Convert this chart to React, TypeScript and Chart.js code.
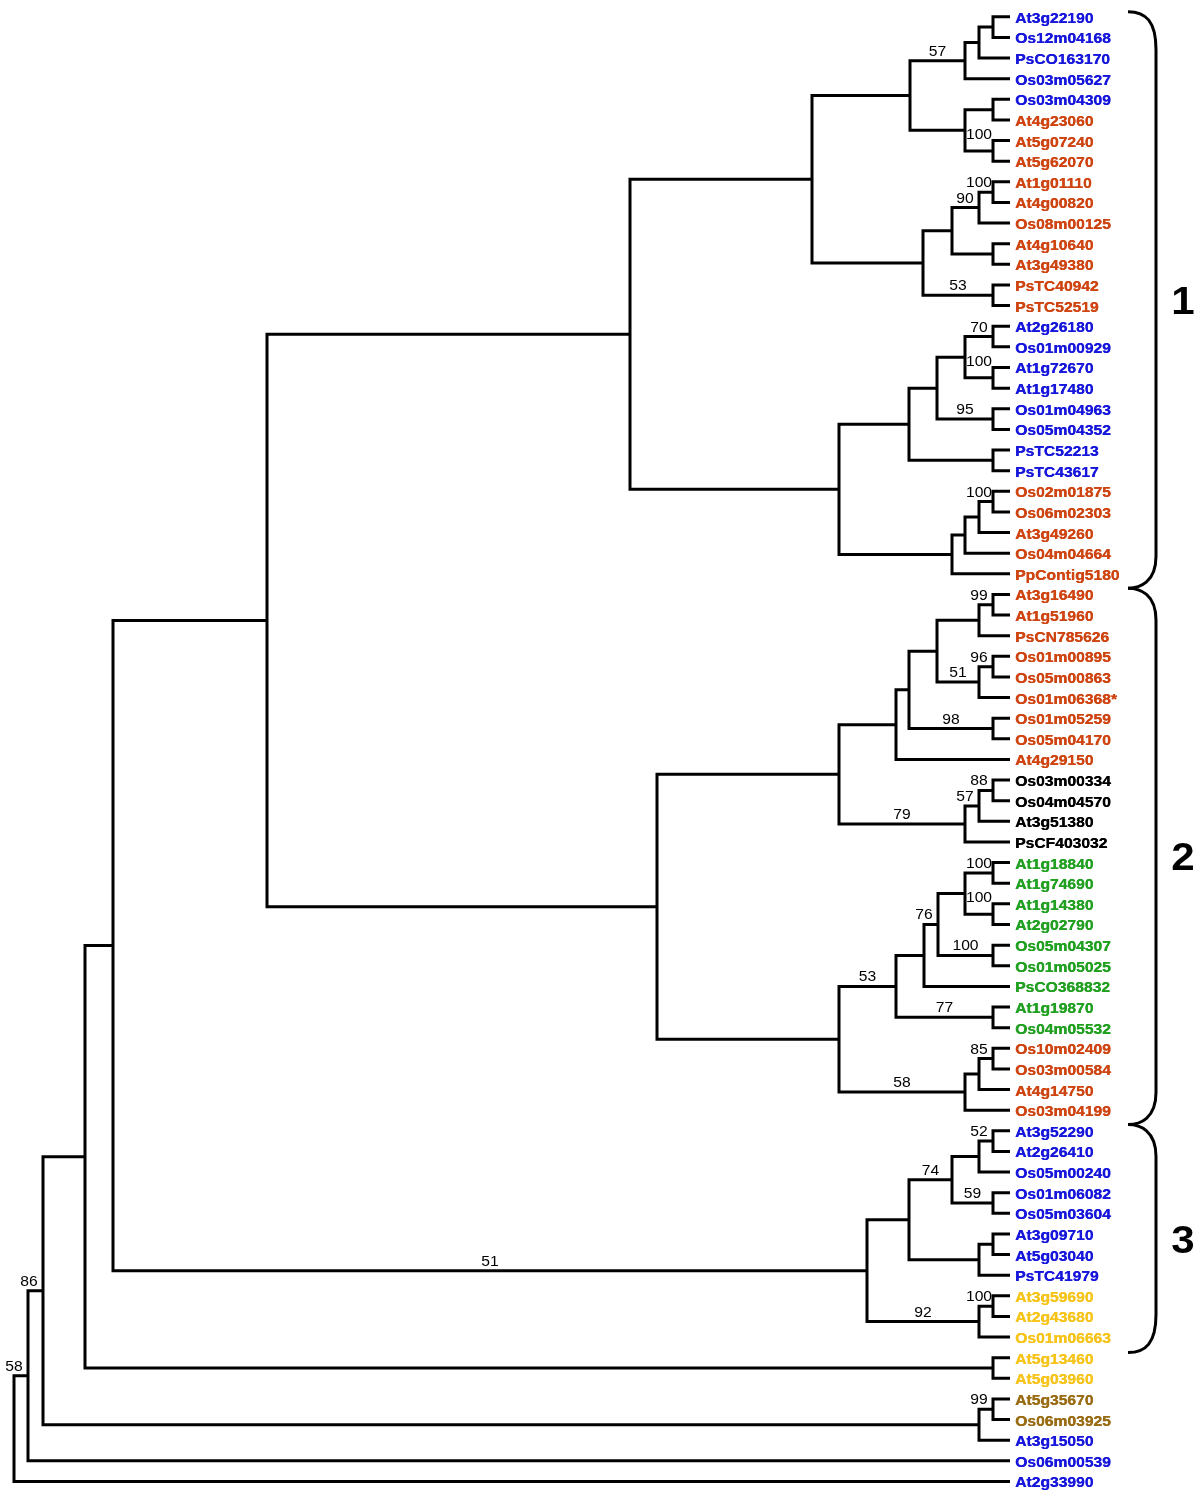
import React, { useEffect, useRef } from 'react';
import { Chart, registerables } from 'chart.js';

Chart.register(...registerables);

// ---------- data ----------
const leafNames = [
  'At3g22190', 'Os12m04168', 'PsCO163170', 'Os03m05627', 'Os03m04309', 'At4g23060', 'At5g07240', 'At5g62070',
  'At1g01110', 'At4g00820', 'Os08m00125', 'At4g10640', 'At3g49380', 'PsTC40942', 'PsTC52519',
  'At2g26180', 'Os01m00929', 'At1g72670', 'At1g17480', 'Os01m04963', 'Os05m04352', 'PsTC52213', 'PsTC43617',
  'Os02m01875', 'Os06m02303', 'At3g49260', 'Os04m04664', 'PpContig5180',
  'At3g16490', 'At1g51960', 'PsCN785626', 'Os01m00895', 'Os05m00863', 'Os01m06368*', 'Os01m05259', 'Os05m04170',
  'At4g29150', 'Os03m00334', 'Os04m04570', 'At3g51380', 'PsCF403032',
  'At1g18840', 'At1g74690', 'At1g14380', 'At2g02790', 'Os05m04307', 'Os01m05025', 'PsCO368832', 'At1g19870',
  'Os04m05532', 'Os10m02409', 'Os03m00584', 'At4g14750', 'Os03m04199',
  'At3g52290', 'At2g26410', 'Os05m00240', 'Os01m06082', 'Os05m03604', 'At3g09710', 'At5g03040', 'PsTC41979',
  'At3g59690', 'At2g43680', 'Os01m06663', 'At5g13460', 'At5g03960', 'At5g35670', 'Os06m03925', 'At3g15050',
  'Os06m00539', 'At2g33990',
];

// colour class of each leaf label
const leafGroups = [
  'B', 'B', 'B', 'B', 'B', 'O', 'O', 'O',
  'O', 'O', 'O', 'O', 'O', 'O', 'O',
  'B', 'B', 'B', 'B', 'B', 'B', 'B', 'B',
  'O', 'O', 'O', 'O', 'O',
  'O', 'O', 'O', 'O', 'O', 'O', 'O', 'O',
  'O', 'K', 'K', 'K', 'K',
  'G', 'G', 'G', 'G', 'G', 'G', 'G', 'G',
  'G', 'O', 'O', 'O', 'O',
  'B', 'B', 'B', 'B', 'B', 'B', 'B', 'B',
  'Y', 'Y', 'Y', 'Y', 'Y', 'R', 'R', 'B',
  'B', 'B',
];

// internal nodes (children: number = leaf index, 'nK' = internal node K), listed bottom-up
const nodeChildren: [number | string, number | string][] = [
  [0, 1], ['n0', 2], ['n1', 3], [4, 5], [6, 7], ['n3', 'n4'], ['n2', 'n5'], [8, 9], ['n7', 10], [11, 12],
  ['n8', 'n9'], [13, 14], ['n10', 'n11'], ['n6', 'n12'], [15, 16], [17, 18], ['n14', 'n15'], [19, 20], ['n16', 'n17'], [21, 22],
  ['n18', 'n19'], [23, 24], ['n21', 25], ['n22', 26], ['n23', 27], ['n20', 'n24'], ['n13', 'n25'],
  [28, 29], ['n27', 30], [31, 32], ['n29', 33], ['n28', 'n30'], [34, 35], ['n31', 'n32'], ['n33', 36], [37, 38],
  ['n35', 39], ['n36', 40], ['n34', 'n37'], [41, 42], [43, 44], ['n39', 'n40'], [45, 46], ['n41', 'n42'], ['n43', 47], [48, 49],
  ['n44', 'n45'], [50, 51], ['n47', 52], ['n48', 53], ['n46', 'n49'], ['n38', 'n50'], ['n26', 'n51'],
  [54, 55], ['n53', 56], [57, 58], ['n54', 'n55'], [59, 60], ['n57', 61], ['n56', 'n58'], [62, 63], ['n60', 64],
  ['n59', 'n61'], ['n52', 'n62'], [65, 66], ['n63', 'n64'], [67, 68], ['n66', 69], ['n65', 'n67'], ['n68', 70], ['n69', 71],
];

// distance of each internal node from the root
const nodeDepth = [
  979, 965, 951, 979, 979, 951, 896, 979, 965, 979,
  938, 979, 909, 798, 979, 979, 951, 979, 923, 979,
  895, 979, 965, 951, 938, 825, 616,
  979, 965, 979, 965, 923, 979, 895, 882, 979,
  965, 951, 825, 979, 979, 951, 979, 924, 910, 979,
  882, 979, 965, 951, 825, 643, 253,
  979, 965, 979, 938, 979, 965, 895, 979, 965,
  853, 99, 979, 71, 979, 965, 29, 14, 0,
];

// bootstrap support of each internal node
const nodeSupport: (number | null)[] = [
  null, null, 57, null, 100, null, null, 100, 90, null,
  null, 53, null, null, 70, 100, null, 95, null, null,
  null, 100, null, null, null, null, null,
  99, null, 96, 51, null, 98, null, null, 88,
  57, 79, null, 100, 100, null, 100, 76, null, 77,
  53, 85, null, 58, null, null, null,
  52, null, 59, 74, null, null, null, 100, 92,
  51, null, null, null, 99, null, 86, 58, null,
];

const tipDepth = 996;

const cladeNames = ['1', '2', '3'];
const cladeFirst = [0, 28, 54];
const cladeLast = [27, 53, 64];

// ---------- styles ----------
const groupColors: Record<string, string> = {
  B: '#1717dc',
  O: '#cf4512',
  K: '#000000',
  G: '#22a022',
  Y: '#f6c41a',
  R: '#9a6c14',
};
const SX = 1.08; // horizontal text stretch of the original figure
const FONT_FAMILY = '"Liberation Sans", Arial, Helvetica, sans-serif';

// ---------- derived tree geometry (in data units) ----------
const nodeIndex = (r: number | string) => parseInt(String(r).slice(1), 10);
const nodeRow: number[] = [];
const refRow = (r: number | string) => (typeof r === 'number' ? r : nodeRow[nodeIndex(r)]);
const refDepth = (r: number | string) => (typeof r === 'number' ? tipDepth : nodeDepth[nodeIndex(r)]);
nodeChildren.forEach((c, i) => {
  nodeRow[i] = (refRow(c[0]) + refRow(c[1])) / 2;
});
const nodeParent: number[] = nodeChildren.map(() => -1);
nodeChildren.forEach((c, i) => {
  c.forEach((r) => {
    if (typeof r === 'string') nodeParent[nodeIndex(r)] = i;
  });
});

function treePoints() {
  const pts: { x: number; y: number }[] = [];
  nodeChildren.forEach((c, i) => {
    const d = nodeDepth[i];
    pts.push({ x: refDepth(c[0]), y: refRow(c[0]) });
    pts.push({ x: d, y: refRow(c[0]) });
    pts.push({ x: d, y: refRow(c[1]) });
    pts.push({ x: refDepth(c[1]), y: refRow(c[1]) });
    pts.push({ x: NaN, y: NaN });
  });
  return pts;
}

function stretchedText(ctx: CanvasRenderingContext2D, s: string, x: number, y: number, align: CanvasTextAlign) {
  ctx.save();
  ctx.translate(x, y);
  ctx.scale(SX, 1);
  ctx.textAlign = align;
  ctx.textBaseline = 'alphabetic';
  ctx.fillText(s, 0, 0);
  ctx.restore();
}

const annotationPlugin = {
  id: 'treeAnnotations',
  afterDatasetsDraw(chart: any) {
    const ctx: CanvasRenderingContext2D = chart.ctx;
    const xs = chart.scales.x;
    const ys = chart.scales.y;
    const tipPx = xs.getPixelForValue(tipDepth);

    // leaf labels
    ctx.save();
    ctx.font = `bold 14.5px ${FONT_FAMILY}`;
    leafNames.forEach((name, i) => {
      ctx.fillStyle = groupColors[leafGroups[i]];
      const yy = ys.getPixelForValue(i) + 6;
      stretchedText(ctx, name, tipPx + 5, yy, 'left');
      // slight overprint for the heavier weight of the original labels
      stretchedText(ctx, name, tipPx + 5.4, yy, 'left');
    });
    ctx.restore();

    // bootstrap values
    ctx.save();
    ctx.font = `14.5px ${FONT_FAMILY}`;
    ctx.fillStyle = '#000';
    nodeSupport.forEach((v, i) => {
      if (v == null) return;
      const p = nodeParent[i];
      if (p < 0) return;
      const s = String(v);
      const w = ctx.measureText(s).width * SX;
      const nx = xs.getPixelForValue(nodeDepth[i]);
      const px = xs.getPixelForValue(nodeDepth[p]);
      const ny = ys.getPixelForValue(nodeRow[i]);
      const cx = Math.min((px + nx) / 2, nx - 14);
      const isLower = nodeChildren[p][1] === 'n' + i;
      const raise = isLower && cx - w / 2 < px + 5 ? 12 : 5;
      stretchedText(ctx, s, cx, ny - raise, 'center');
    });
    ctx.restore();

    // clade braces and numbers
    const xEnd = tipPx + 118;
    const xV = tipPx + 146;
    ctx.save();
    ctx.strokeStyle = '#000';
    ctx.lineWidth = 3;
    ctx.lineCap = 'butt';
    cladeNames.forEach((name, g) => {
      const topIsCusp = g > 0;
      const botIsCusp = g < cladeNames.length - 1;
      const yTop = topIsCusp
        ? ys.getPixelForValue((cladeLast[g - 1] + cladeFirst[g]) / 2 + 0.2)
        : ys.getPixelForValue(cladeFirst[g] - 0.25);
      const yBot = botIsCusp
        ? ys.getPixelForValue((cladeLast[g] + cladeFirst[g + 1]) / 2 + 0.2)
        : ys.getPixelForValue(cladeLast[g] + 0.75);
      ctx.beginPath();
      ctx.moveTo(xEnd, yTop);
      if (topIsCusp) {
        ctx.bezierCurveTo(xEnd + 12, yTop, xV, yTop + 6, xV, yTop + 32);
      } else {
        ctx.bezierCurveTo(xEnd + 18, yTop, xV, yTop + 10, xV, yTop + 38);
      }
      if (botIsCusp) {
        ctx.lineTo(xV, yBot - 32);
        ctx.bezierCurveTo(xV, yBot - 6, xEnd + 12, yBot, xEnd, yBot);
      } else {
        ctx.lineTo(xV, yBot - 38);
        ctx.bezierCurveTo(xV, yBot - 10, xEnd + 18, yBot, xEnd, yBot);
      }
      ctx.stroke();

      ctx.fillStyle = '#000';
      ctx.font = `bold 39px ${FONT_FAMILY}`;
      stretchedText(ctx, name, tipPx + 173, (yTop + yBot) / 2 + 14, 'center');
    });
    ctx.restore();
  },
};

export default function App() {
  const canvasRef = useRef<HTMLCanvasElement | null>(null);

  useEffect(() => {
    if (!canvasRef.current) return;
    const chart = new Chart(canvasRef.current, {
      type: 'scatter',
      data: {
        datasets: [
          {
            data: treePoints(),
            showLine: true,
            borderColor: '#000',
            borderWidth: 3,
            borderJoinStyle: 'miter',
            borderCapStyle: 'butt',
            pointRadius: 0,
            pointHoverRadius: 0,
            tension: 0,
            spanGaps: false,
            fill: false,
          } as any,
        ],
      },
      options: {
        responsive: false,
        maintainAspectRatio: false,
        animation: false,
        events: [],
        layout: { padding: 0 },
        scales: {
          x: { type: 'linear', display: false, min: -14, max: 1186 },
          y: { type: 'linear', display: false, reverse: true, min: -0.814, max: 71.8 },
        },
        plugins: {
          legend: { display: false },
          tooltip: { enabled: false },
          title: { display: false },
        },
      },
      plugins: [annotationPlugin],
    });
    return () => chart.destroy();
  }, []);

  return (
    <div style={{ position: 'absolute', left: 0, top: 0, width: 1200, height: 1498, background: '#fff' }}>
      <canvas ref={canvasRef} width={1200} height={1498} style={{ display: 'block' }} />
    </div>
  );
}
